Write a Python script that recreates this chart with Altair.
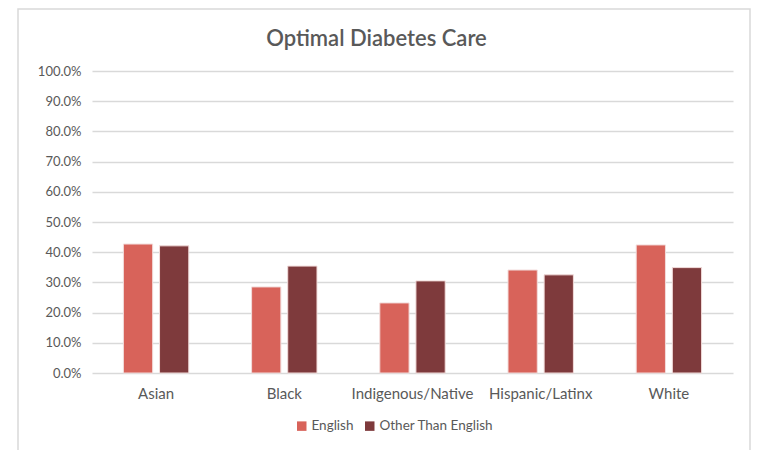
import altair as alt
import pandas as pd

groups = ["Asian", "Black", "Indigenous/Native", "Hispanic/Latinx", "White"]
english = [0.427, 0.285, 0.232, 0.341, 0.424]
other = [0.421, 0.354, 0.305, 0.325, 0.349]
series = ["English", "Other Than English"]
colors = ["#D8635A", "#7E3A3C"]

rows = []
for g, e, o in zip(groups, english, other):
    rows.append({"group": g, "series": series[0], "value": e})
    rows.append({"group": g, "series": series[1], "value": o})
df = pd.DataFrame(rows)

FONT = "Lato"
GREY = "#595959"

frame = alt.Chart(pd.DataFrame({"a": [0]})).mark_rect(
    fillOpacity=0, stroke="#D9D9D9", strokeWidth=1.5
).encode(x=alt.value(-74), x2=alt.value(658), y=alt.value(-62), y2=alt.value(400))

bars = alt.Chart(df).mark_bar(stroke="#F2DCDB", strokeWidth=1).encode(
    x=alt.X("group:N", sort=groups, title=None,
            scale=alt.Scale(paddingInner=0.49, paddingOuter=0.245),
            axis=alt.Axis(labelAngle=0, labelFont=FONT, labelFontSize=15,
                          labelColor=GREY, domain=False, ticks=False,
                          labelPadding=13)),
    xOffset=alt.XOffset("series:N", sort=series,
                        scale=alt.Scale(paddingInner=0.19, paddingOuter=0)),
    y=alt.Y("value:Q", title=None,
            scale=alt.Scale(domain=[0, 1]),
            axis=alt.Axis(format=".1%", values=[i / 10 for i in range(11)],
                          labelFont=FONT, labelFontSize=13, labelColor=GREY,
                          domain=False, ticks=False, labelPadding=11,
                          gridColor="#D9D9D9", gridWidth=1.5)),
    color=alt.Color("series:N", sort=series,
                    scale=alt.Scale(domain=series, range=colors),
                    legend=alt.Legend(title=None, orient="none", direction="horizontal",
                                      legendX=203, legendY=348,
                                      symbolType="square", symbolSize=90,
                                      symbolStrokeWidth=0,
                                      labelFont=FONT, labelFontSize=13.5,
                                      labelColor=GREY, columnPadding=9,
                                      labelOffset=3)),
)

chart = alt.layer(frame, bars).properties(
    width=641, height=302,
    padding={"left": 92, "top": 71, "right": 26, "bottom": 77},
    autosize=alt.AutoSizeParams(type="none"),
    title=alt.TitleParams("Optimal Diabetes Care", font=FONT, fontSize=22,
                          fontWeight=600, color=GREY, anchor="middle",
                          dx=-36, offset=0, dy=43),
).configure_view(stroke=None)

chart.save("out.html", embed_options={"renderer": "svg", "actions": False})
